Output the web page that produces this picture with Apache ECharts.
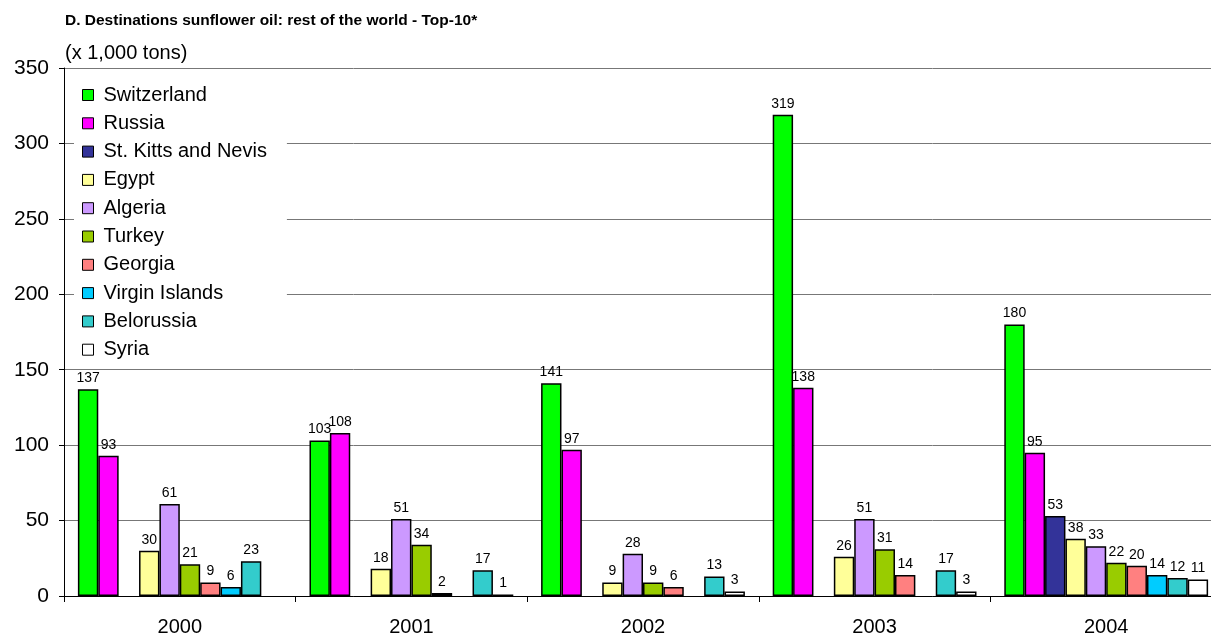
<!DOCTYPE html>
<html>
<head>
<meta charset="utf-8">
<script src="https://cdn.jsdelivr.net/npm/echarts@6/dist/echarts.min.js"></script>
<style>
html,body{margin:0;padding:0;overflow:hidden;background:#fff;}
#chart{width:1222px;height:637px;}
</style>
</head>
<body>
<div id="chart"></div>
<script>
// years on the x axis
var years = ['2000', '2001', '2002', '2003', '2004'];
var yTicks = [0, 50, 100, 150, 200, 250, 300, 350];

// destinations, x 1,000 tons (null = not in top-10 that year)
var switzerland = [137, 103, 141, 319, 180];
var russia      = [93, 108, 97, 138, 95];
var stKitts     = [null, null, null, null, 53];
var egypt       = [30, 18, 9, 26, 38];
var algeria     = [61, 51, 28, 51, 33];
var turkey      = [21, 34, 9, 31, 22];
var georgia     = [9, 2, 6, 14, 20];
var virgin      = [6, null, null, null, 14];
var belorussia  = [23, 17, 13, 17, 12];
var syria       = [null, 1, 3, 3, 11];

var names  = ['Switzerland', 'Russia', 'St. Kitts and Nevis', 'Egypt', 'Algeria',
              'Turkey', 'Georgia', 'Virgin Islands', 'Belorussia', 'Syria'];
var values = [switzerland, russia, stKitts, egypt, algeria, turkey, georgia, virgin, belorussia, syria];
var colors = ['#00FF00', '#FF00FF', '#333399', '#FFFF99', '#CC99FF',
              '#99CC00', '#FF8080', '#00CCFF', '#33CCCC', '#FFFFFF'];

var font = "'Liberation Sans', Arial, sans-serif";

var series = names.map(function (n, i) {
  return {
    name: n,
    type: 'bar',
    data: values[i],
    barGap: '0%',
    barCategoryGap: '12%',
    itemStyle: { color: colors[i], borderColor: '#000', borderWidth: 1.5 },
    label: {
      show: true, position: 'top', distance: 4,
      color: '#000', fontSize: 14, fontFamily: font
    }
  };
});

var chart = echarts.init(document.getElementById('chart'));
chart.setOption({
  animation: false,
  color: colors,
  title: [
    { text: 'D. Destinations sunflower oil: rest of the world - Top-10*', left: 65, top: 13, padding: 0,
      textStyle: { fontSize: 15.5, fontWeight: 'bold', color: '#000', fontFamily: font } },
    { text: '(x 1,000 tons)', left: 65, top: 43, padding: 0,
      textStyle: { fontSize: 20, fontWeight: 'normal', color: '#000', fontFamily: font } }
  ],
  legend: {
    orient: 'vertical', left: 74, top: 81,
    backgroundColor: '#fff', padding: [4, 20, 4, 8],
    itemWidth: 11, itemHeight: 11, itemGap: 8.3,
    icon: 'rect',
    textStyle: { fontSize: 20, color: '#000', fontFamily: font, lineHeight: 20, padding: [0, 0, 0, 5] },
    itemStyle: { borderColor: '#000', borderWidth: 1 },
    data: names
  },
  grid: { left: 64, right: 0, top: 68, bottom: 40 },
  xAxis: {
    type: 'category', data: years,
    axisLine: { lineStyle: { color: '#000', width: 1 } },
    axisTick: { show: true, length: 6, lineStyle: { color: '#000' } },
    axisLabel: { fontSize: 20, color: '#000', fontFamily: font, margin: 21 }
  },
  yAxis: {
    type: 'value', min: 0, max: 350, interval: 50,
    axisLine: { show: true, lineStyle: { color: '#000', width: 1 } },
    axisTick: { show: true, length: 5, lineStyle: { color: '#000' } },
    axisLabel: { fontSize: 21, color: '#000', fontFamily: font, margin: 15,
      formatter: function (v) { return yTicks.indexOf(v) >= 0 ? String(v) : ''; } },
    splitLine: { show: true, lineStyle: { color: '#777', width: 1 } }
  },
  series: series
});
</script>
</body>
</html>
